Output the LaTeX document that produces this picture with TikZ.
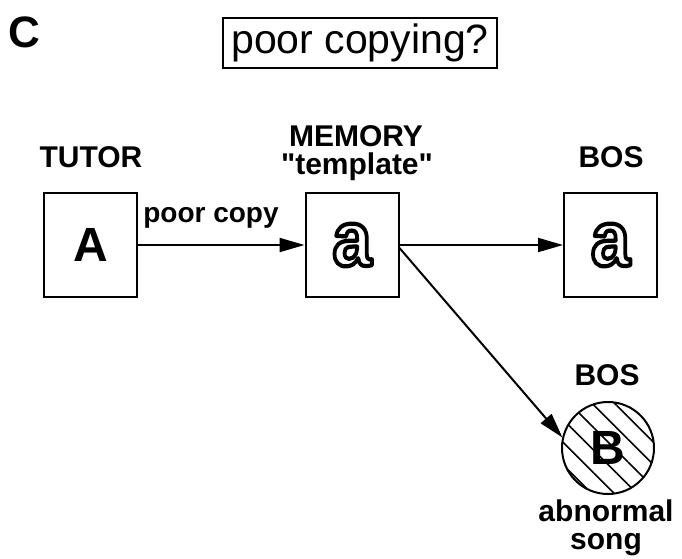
\documentclass[tikz,border=0pt]{standalone}
\usepackage{fontspec}
\setmainfont{Liberation Sans}[Ligatures=TeXOff]
\usepackage{graphicx}
\usepackage{xcolor}
\usetikzlibrary{arrows.meta,patterns.meta}

\newcommand\fsz[1]{\fontsize{#1}{#1}\selectfont}
\newcommand\outlinea{\scalebox{0.9}[1]{\fsz{78}\bfseries\color{white}\special{pdf:literal direct 0 G 2 Tr 4.2 w 1 j}a\special{pdf:literal direct 0 Tr}}}

\tikzset{
 box/.style={draw, line width=2pt, minimum width=93pt, minimum height=104pt, inner sep=0pt},
 lbl/.style={font=\fsz{30}\bfseries, anchor=base, inner sep=0pt},
 arr/.style={line width=2pt, -{Triangle[length=25pt,width=14pt]}},
}

\begin{document}
\begin{tikzpicture}[x=1pt,y=-1pt]
\useasboundingbox (0,0) rectangle (682,558);
\node[anchor=base west, inner sep=0pt, font=\fsz{44}\bfseries] (C) at (8,47) {C};
\node[draw, line width=1.6pt, minimum width=274pt, minimum height=50pt, inner sep=0pt, font=\fsz{41}] (title) at (360,43) {poor copying?};
\node[box] (A) at (90.5,245) {\fsz{48}\bfseries A};
\node[box] (M) at (352,245) {\raisebox{-5pt}{\outlinea}};
\node[box] (S) at (610.5,245) {\raisebox{-5pt}{\outlinea}};
\node[lbl] (tutor) at (91,167) {TUTOR};
\node[lbl] (mem) at (356,146) {MEMORY};
\node[lbl] (tpl) at (357,174) {"template"};
\node[lbl] (bos1) at (611,167) {BOS};
\node[lbl] (bos2) at (607,385) {BOS};
\node[circle, draw, line width=2pt, minimum size=92pt, inner sep=0pt, pattern={Lines[angle=-45,distance=16pt,line width=1.6pt]}] (circ) at (608,448) {};
\node[font=\fsz{48}\bfseries, inner sep=0pt] (B) at (circ.center) {B};
\node[lbl] (abn) at (606,521) {abnormal};
\node[lbl] (song) at (606,549) {song};
\node[font=\fsz{28}\bfseries, anchor=base, inner sep=0pt] (pc) at (211,222) {poor copy};
\draw[arr] (A) -- (M);
\draw[arr] (M) -- (S);
\draw[arr] ([yshift=-3pt]M.east) -- (circ.167);
\end{tikzpicture}
\end{document}
